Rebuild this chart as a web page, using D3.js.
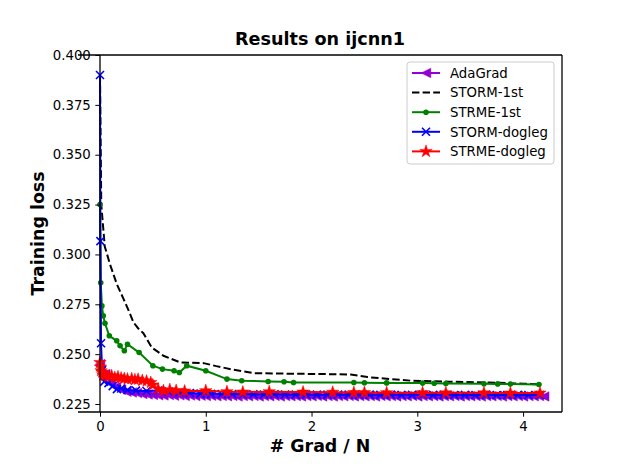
<!DOCTYPE html>
<html>
  <head>
    <meta charset="utf-8">
    <script src="https://d3js.org/d3.v7.min.js"></script>
    <style type="text/css">
      body { margin: 0; background: white; }
      text { font-family: "DejaVu Sans", sans-serif; }
      .tick text { font-size: 13.3px; fill: black; }
      .tick line { stroke: black; }
    </style>
  </head>
  <body>
    <div class="plot_canvas"></div>
    <script>

      // data
      var adagrad_x = [0, 0.05, 0.1, 0.15, 0.2, 0.25, 0.3, 0.35, 0.4, 0.45, 0.5, 0.55, 0.6, 0.65, 0.7, 0.75, 0.8, 0.85, 0.9, 0.95,
        1.0, 1.05, 1.1, 1.15, 1.2, 1.25, 1.3, 1.35, 1.4, 1.45, 1.5, 1.55, 1.6, 1.65, 1.7, 1.75, 1.8, 1.85, 1.9, 1.95,
        2.0, 2.05, 2.1, 2.15, 2.2, 2.25, 2.3, 2.35, 2.4, 2.45, 2.5, 2.55, 2.6, 2.65, 2.7, 2.75, 2.8, 2.85, 2.9, 2.95,
        3.0, 3.05, 3.1, 3.15, 3.2, 3.25, 3.3, 3.35, 3.4, 3.45, 3.5, 3.55, 3.6, 3.65, 3.7, 3.75, 3.8, 3.85, 3.9, 3.95,
        4.0, 4.05, 4.1, 4.15, 4.2];
      var adagrad_y = [0.2450, 0.2400, 0.2355, 0.2335, 0.2322, 0.2312, 0.2308, 0.2305, 0.2300, 0.2298, 0.2296, 0.2294, 0.2293, 0.2295, 0.2292, 0.2294, 0.2291, 0.2293, 0.2290, 0.2292,
        0.2290, 0.2292, 0.2289, 0.2291, 0.2289, 0.2291, 0.2288, 0.2290, 0.2289, 0.2291, 0.2288, 0.2290, 0.2289, 0.2291, 0.2288, 0.2290, 0.2289, 0.2290, 0.2288, 0.2290,
        0.2289, 0.2291, 0.2288, 0.2290, 0.2288, 0.2290, 0.2289, 0.2291, 0.2288, 0.2290, 0.2289, 0.2290, 0.2288, 0.2291, 0.2289, 0.2290, 0.2288, 0.2290, 0.2289, 0.2291,
        0.2288, 0.2290, 0.2289, 0.2290, 0.2288, 0.2290, 0.2289, 0.2291, 0.2288, 0.2290, 0.2289, 0.2290, 0.2288, 0.2290, 0.2289, 0.2291, 0.2288, 0.2290, 0.2289, 0.2290,
        0.2288, 0.2290, 0.2289, 0.2290, 0.2288];

      var storm1_x = [0, 0.012, 0.045, 0.095, 0.16, 0.22, 0.27, 0.316, 0.36, 0.41, 0.49, 0.6, 0.76, 0.98, 1.1, 1.26, 1.45,
        1.8, 2.15, 2.37, 2.53, 2.94, 3.3, 3.67, 4.0, 4.16];
      var storm1_y = [0.390, 0.325, 0.304, 0.295, 0.285, 0.278, 0.272, 0.266, 0.263, 0.2605, 0.2533, 0.2492, 0.2458, 0.2455, 0.2440, 0.2422, 0.2405,
        0.2402, 0.2400, 0.2398, 0.2385, 0.2367, 0.2362, 0.2358, 0.2352, 0.2348];

      var strme1_x = [0, 0.007, 0.018, 0.031, 0.047, 0.088, 0.158, 0.19, 0.23, 0.26, 0.37, 0.5, 0.59, 0.70, 0.75, 0.82, 1.0,
        1.2, 1.34, 1.59, 1.74, 1.83, 2.40, 2.50, 2.71, 3.05, 3.16, 3.27, 3.63, 3.76, 3.88, 4.15];
      var strme1_y = [0.325, 0.2858, 0.2742, 0.2692, 0.2655, 0.2592, 0.2567, 0.2542, 0.2517, 0.2550, 0.2508, 0.2442, 0.2425, 0.2417, 0.2408, 0.2442, 0.2417,
        0.2375, 0.2367, 0.2363, 0.2362, 0.2358, 0.2358, 0.2357, 0.2356, 0.2355, 0.2354, 0.2353, 0.2352, 0.2351, 0.2350, 0.2348];

      var stormdl_x = [0, 0.004, 0.01, 0.02, 0.04, 0.08, 0.12, 0.16, 0.2, 0.26, 0.34, 0.44, 0.55, 0.65, 0.75, 0.85, 0.95,
        1.05, 1.15, 1.25, 1.35, 1.45, 1.55, 1.65, 1.75, 1.85, 1.95, 2.05, 2.15, 2.25, 2.35, 2.45, 2.55, 2.65, 2.75, 2.85, 2.95,
        3.05, 3.15, 3.25, 3.35, 3.45, 3.55, 3.65, 3.75, 3.85, 3.95, 4.05, 4.16];
      var stormdl_y = [0.390, 0.3067, 0.2555, 0.2420, 0.2362, 0.2355, 0.2340, 0.2325, 0.2328, 0.2320, 0.2317, 0.2315, 0.2318, 0.2312, 0.2308, 0.2305, 0.2302,
        0.2301, 0.2300, 0.2300, 0.2299, 0.2299, 0.2298, 0.2299, 0.2298, 0.2297, 0.2298, 0.2297, 0.2297, 0.2298, 0.2297, 0.2296, 0.2297, 0.2296, 0.2297, 0.2296, 0.2296,
        0.2297, 0.2296, 0.2296, 0.2295, 0.2296, 0.2295, 0.2296, 0.2295, 0.2295, 0.2296, 0.2295, 0.2295];

      var strmedl_x = [0, 0.005, 0.01, 0.02, 0.03, 0.05, 0.08, 0.11, 0.14, 0.17, 0.2, 0.23, 0.26, 0.3, 0.33, 0.36, 0.4, 0.44, 0.48,
        0.5, 0.55, 0.6, 0.66, 0.72, 0.8, 1.0, 1.2, 1.35, 1.6, 1.92, 2.2, 2.40, 2.50, 2.71, 3.05, 3.27, 3.63, 3.88, 4.16];
      var strmedl_y = [0.2458, 0.2435, 0.2417, 0.2410, 0.2395, 0.2392, 0.2388, 0.2392, 0.2383, 0.2386, 0.2380, 0.2378, 0.2375, 0.2377, 0.2372, 0.2374, 0.2368, 0.2365, 0.2358,
        0.2345, 0.2325, 0.2317, 0.2322, 0.2318, 0.2315, 0.2317, 0.2312, 0.2310, 0.2312, 0.2310, 0.2309, 0.2308, 0.2308, 0.2307, 0.2307, 0.2306, 0.2306, 0.2305, 0.2305];

      var names = ["AdaGrad", "STORM-1st", "STRME-1st", "STORM-dogleg", "STRME-dogleg"];
      var xTicks = [0, 1, 2, 3, 4];
      var yTicks = [0.225, 0.250, 0.275, 0.300, 0.325, 0.350, 0.375, 0.400];

      function zip(xs, ys) { return xs.map(function(x, i) { return {x: x, y: ys[i]}; }); }

      var series = [
        {name: names[0], values: zip(adagrad_x, adagrad_y), color: "#9400d3", marker: "tri", dash: null},
        {name: names[1], values: zip(storm1_x, storm1_y), color: "black", marker: null, dash: "7.4,3.2"},
        {name: names[2], values: zip(strme1_x, strme1_y), color: "green", marker: "dot", dash: null},
        {name: names[3], values: zip(stormdl_x, stormdl_y), color: "blue", marker: "x", dash: null},
        {name: names[4], values: zip(strmedl_x, strmedl_y), color: "red", marker: "star", dash: null}
      ];

      var width = 623, height = 464;
      var plot = {left: 78, right: 562, top: 55, bottom: 412};

      var xScale = d3.scaleLinear().domain([-0.208, 4.368]).range([plot.left, plot.right]);
      var yScale = d3.scaleLinear().domain([0.221, 0.400]).range([plot.bottom, plot.top]);

      var svg = d3.select(".plot_canvas").append("svg")
        .attr("width", width)
        .attr("height", height);

      svg.append("defs").append("clipPath").attr("id", "clip")
        .append("rect")
        .attr("x", plot.left).attr("y", plot.top)
        .attr("width", plot.right - plot.left).attr("height", plot.bottom - plot.top);

      var line = d3.line()
        .x(function(d) { return xScale(d.x); })
        .y(function(d) { return yScale(d.y); });

      // marker shapes
      var starPath = d3.symbol().type(d3.symbolStar).size(48)();
      var triPath = "M-4.8,0L4.8,-4.8L4.8,4.8Z";
      var xPath = "M-4,-4L4,4M-4,4L4,-4";

      function drawMarker(g, kind, color) {
        if (kind === "tri") {
          g.append("path").attr("d", triPath).attr("fill", color).attr("stroke", color).attr("stroke-width", 0.5);
        } else if (kind === "dot") {
          g.append("circle").attr("r", 2.8).attr("fill", color);
        } else if (kind === "x") {
          g.append("path").attr("d", xPath).attr("fill", "none").attr("stroke", color).attr("stroke-width", 1.6);
        } else if (kind === "star") {
          g.append("path").attr("d", starPath).attr("fill", color).attr("stroke", color).attr("stroke-width", 0.5);
        }
      }

      var plotArea = svg.append("g").attr("clip-path", "url(#clip)");

      series.forEach(function(s) {
        var g = plotArea.append("g");
        g.append("path")
          .attr("d", line(s.values))
          .attr("fill", "none")
          .attr("stroke", s.color)
          .attr("stroke-width", 2)
          .attr("stroke-dasharray", s.dash);
        if (s.marker) {
          g.selectAll("g.mk")
            .data(s.values).enter()
            .append("g")
            .attr("class", "mk")
            .attr("transform", function(d) { return "translate(" + xScale(d.x) + "," + yScale(d.y) + ")"; })
            .each(function() { drawMarker(d3.select(this), s.marker, s.color); });
        }
      });

      // axes
      var xAxis = d3.axisBottom(xScale).tickValues(xTicks).tickFormat(d3.format("d")).tickSize(4.7).tickPadding(4.5);
      var yAxis = d3.axisLeft(yScale).tickValues(yTicks).tickFormat(d3.format(".3f")).tickSize(4.7).tickPadding(4.5);

      var gx = svg.append("g")
        .attr("transform", "translate(0," + plot.bottom + ")")
        .call(xAxis);
      gx.select(".domain").remove();

      var gy = svg.append("g")
        .attr("transform", "translate(" + xScale(0) + ",0)")
        .call(yAxis);
      gy.select(".domain").remove();

      // spines (left spine sits at x = 0)
      var spines = svg.append("g").attr("stroke", "black").attr("stroke-width", 1.3).attr("fill", "none");
      spines.append("line").attr("x1", plot.left).attr("x2", plot.right).attr("y1", plot.bottom).attr("y2", plot.bottom);
      spines.append("line").attr("x1", plot.left).attr("x2", plot.right).attr("y1", plot.top).attr("y2", plot.top);
      spines.append("line").attr("x1", plot.right).attr("x2", plot.right).attr("y1", plot.top).attr("y2", plot.bottom);
      spines.append("line").attr("x1", xScale(0)).attr("x2", xScale(0)).attr("y1", plot.top).attr("y2", plot.bottom);

      // titles
      svg.append("text")
        .attr("x", (plot.left + plot.right) / 2).attr("y", 45)
        .attr("text-anchor", "middle")
        .style("font-size", "17.6px").style("font-weight", "bold")
        .text("Results on ijcnn1");

      svg.append("text")
        .attr("x", (plot.left + plot.right) / 2).attr("y", 452)
        .attr("text-anchor", "middle")
        .style("font-size", "17.4px").style("font-weight", "bold")
        .text("# Grad / N");

      svg.append("text")
        .attr("transform", "translate(44," + ((plot.top + plot.bottom) / 2) + ") rotate(-90)")
        .attr("text-anchor", "middle")
        .style("font-size", "17.4px").style("font-weight", "bold")
        .text("Training loss");

      // legend
      var legend = svg.append("g");
      legend.append("rect")
        .attr("x", 407).attr("y", 62).attr("width", 147).attr("height", 102)
        .attr("rx", 3).attr("ry", 3)
        .attr("fill", "white").attr("fill-opacity", 0.8)
        .attr("stroke", "#cccccc").attr("stroke-width", 1);

      series.forEach(function(s, i) {
        var ly = 73 + i * 19.6;
        var row = legend.append("g");
        row.append("line")
          .attr("x1", 412).attr("x2", 440).attr("y1", ly).attr("y2", ly)
          .attr("stroke", s.color).attr("stroke-width", 2)
          .attr("stroke-dasharray", s.dash);
        if (s.marker) {
          var m = row.append("g").attr("transform", "translate(426," + ly + ")");
          drawMarker(m, s.marker, s.color);
        }
        row.append("text")
          .attr("x", 450).attr("y", ly).attr("dy", "0.36em")
          .style("font-size", "13.3px")
          .text(s.name);
      });

    </script>
  </body>
</html>
